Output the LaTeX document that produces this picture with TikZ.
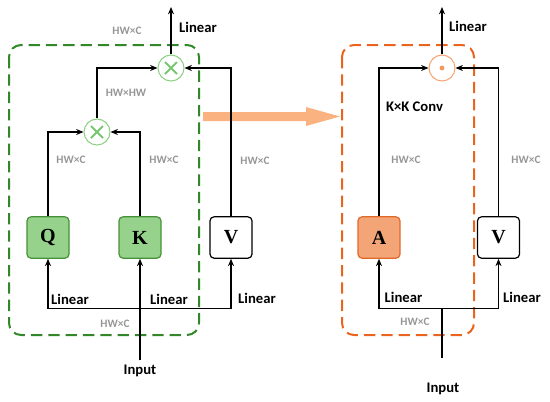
\documentclass[tikz,border=0pt]{standalone}
\usepackage{amsmath,amssymb}
\usepackage{fontspec}
\setmainfont{Carlito}
\newfontfamily\letterfont{Liberation Serif}
\usetikzlibrary{arrows.meta}

\begin{document}
\begin{tikzpicture}[x=0.75pt,y=0.75pt,yscale=-1,xscale=1,
  wire/.style={line width=0.9pt},
  arr/.style={wire,-{Stealth[length=5.5pt,width=4.5pt]}},
  lbl/.style={font=\fontsize{11}{13}\selectfont\bfseries},
  dimlbl/.style={font=\fontsize{8.5}{10}\selectfont\bfseries,text={rgb,255:red,150;green,150;blue,150}},
  letterbox/.style={draw,rounded corners=3pt,minimum width=31.5pt,minimum height=31pt,line width=0.9pt,
    font=\letterfont\fontsize{15}{17}\selectfont\bfseries},
  greenbox/.style={letterbox,draw={rgb,255:red,70;green,145;blue,55},fill={rgb,255:red,150;green,210;blue,140}},
  orangebox/.style={letterbox,draw={rgb,255:red,225;green,105;blue,40},fill={rgb,255:red,244;green,165;blue,120}},
  plainbox/.style={letterbox,draw=black,fill=white},
  mulnode/.style={circle,minimum size=19.5pt,inner sep=0pt,draw={rgb,255:red,140;green,210;blue,130},line width=0.8pt,fill=white,
    path picture={\draw[line width=1.5pt,color={rgb,255:red,120;green,200;blue,110},shift={(path picture bounding box.center)}]
      (-4.5pt,-4.5pt) -- (4.5pt,4.5pt) (-4.5pt,4.5pt) -- (4.5pt,-4.5pt);}},
  dotnode/.style={circle,minimum size=19.5pt,inner sep=0pt,draw={rgb,255:red,245;green,165;blue,115},line width=0.8pt,fill=white,
    path picture={\fill[color={rgb,255:red,245;green,150;blue,95}] (path picture bounding box.center) circle (1.8pt);}}
]
\useasboundingbox (0,0) rectangle (550,401);

%Rounded Rect (left frame)
\draw [color={rgb,255:red,50;green,135;blue,40},line width=1.5pt,dash pattern=on 8.5pt off 4.5pt,rounded corners=9pt] (9,45) rectangle (199,335);
%Rounded Rect (right frame)
\draw [color={rgb,255:red,235;green,100;blue,30},line width=1.5pt,dash pattern=on 8.5pt off 4.5pt,rounded corners=9pt] (342,45) rectangle (474,335);

%Shape: Big Arrow
\fill [color={rgb,255:red,249;green,178;blue,128}] (203,112) -- (306,112) -- (306,107) -- (340,116.5) -- (306,126) -- (306,121) -- (203,121) -- cycle;

%Left block
\node [greenbox] (Q) at (48,237.5) {Q};
\node [greenbox] (K) at (140,237.5) {K};
\node [plainbox] (V) at (231,237.5) {V};
\node [mulnode] (mulB) at (97,132) {};
\node [mulnode] (mulT) at (171,68) {};
\coordinate (outL) at (171,7);
\coordinate (busL) at (140,308.5);
\node [lbl] (inL) at (140,371) {Input};

%Straight Lines
\draw [arr] (Q) |- (mulB);
\draw [arr] (K) |- (mulB);
\draw [arr] (mulB) |- (mulT);
\draw [arr] (V) |- (mulT);
\draw [arr] (mulT) -- (outL);
\draw [wire] (Q |- busL) -- (V |- busL);
\draw [arr] (Q |- busL) -- (Q);
\draw [arr] (V |- busL) -- (V);
\draw [arr] (inL) -- (K);

%Labels
\node [lbl] at (198,27) {Linear};
\node [dimlbl] at (127,31) {HW×C};
\node [dimlbl] at (126,93) {HW×HW};
\node [dimlbl] at (71,160) {HW×C};
\node [dimlbl] at (164,160) {HW×C};
\node [dimlbl] at (255,161) {HW×C};
\node [lbl] at (70,299) {Linear};
\node [lbl] at (169,299) {Linear};
\node [lbl] at (257,298) {Linear};
\node [dimlbl] at (115,324) {HW×C};

%Right block
\node [orangebox] (A) at (379,237.5) {A};
\node [plainbox] (V2) at (498.5,237.5) {V};
\node [dotnode] (dotT) at (442,68) {};
\coordinate (outR) at (442,7);
\coordinate (busR) at (442,308.5);
\coordinate (feedR) at (442,358);
\node [lbl] (inR) at (443,389) {Input};

%Straight Lines
\draw [arr] (A) |- (dotT);
\draw [arr] (V2) |- (dotT);
\draw [arr] (dotT) -- (outR);
\draw [wire] (A |- busR) -- (V2 |- busR);
\draw [arr] (A |- busR) -- (A);
\draw [arr] (V2 |- busR) -- (V2);
\draw [wire] (feedR) -- (busR);

%Labels
\node [lbl] at (468,26) {Linear};
\node [lbl] at (414.5,107) {K×K Conv};
\node [dimlbl] at (406,160) {HW×C};
\node [dimlbl] at (526,160) {HW×C};
\node [lbl] at (403.5,297) {Linear};
\node [lbl] at (522,297) {Linear};
\node [dimlbl] at (415,322) {HW×C};
\end{tikzpicture}
\end{document}
